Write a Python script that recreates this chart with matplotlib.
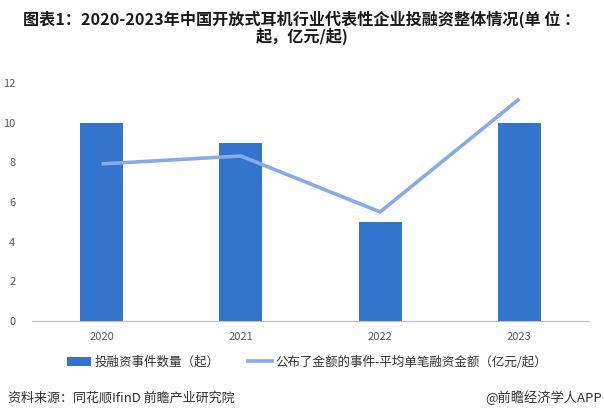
import matplotlib
matplotlib.use("Agg")
import matplotlib.pyplot as plt
from matplotlib.patches import Patch
from matplotlib.lines import Line2D

plt.rcParams['font.family'] = ['Noto Sans CJK SC', 'DejaVu Sans']

years = ["2020", "2021", "2022", "2023"]
deal_counts = [10, 9, 5, 10]
avg_amount = [7.92, 8.32, 5.5, 11.2]
yticks = [0, 2, 4, 6, 8, 10, 12]

title = "图表1：2020-2023年中国开放式耳机行业代表性企业投融资整体情况(单 位 ：\n起，亿元/起)"
bar_label = "投融资事件数量（起）"
line_label = "公布了金额的事件-平均单笔融资金额（亿元/起）"
source = "资料来源：同花顺IfinD 前瞻产业研究院"
brand = "@前瞻经济学人APP"

bar_color = "#3374CC"
line_color = "#8AA9E8"

fig = plt.figure(figsize=(6.04, 4.18), dpi=100)
ax = fig.add_axes([32/604, 1-321/418, (589-32)/604, (321-83)/418])

x = list(range(len(years)))
ax.bar(x, deal_counts, width=0.31, color=bar_color, zorder=2)
ax.plot(x, avg_amount, color=line_color, linewidth=2.6, zorder=3, solid_capstyle='butt')

ax.set_xlim(-0.5, 3.5)
ax.set_ylim(0, 12)
ax.set_yticks(yticks)
ax.set_xticks(x)
ax.set_xticklabels(years)
ax.tick_params(axis='both', length=0, labelsize=8, colors="#595959")
ax.tick_params(axis='x', pad=8)
ax.tick_params(axis='y', pad=12)
for s in ["top", "right", "left"]:
    ax.spines[s].set_visible(False)
ax.spines["bottom"].set_color("#BFBFBF")
ax.spines["bottom"].set_linestyle((0, (1, 1)))
ax.spines["bottom"].set_linewidth(0.8)

fig.text(0.5, 1-11/418, title, ha='center', va='top', fontsize=11.6,
         fontweight='bold', color="#1a1a1a", linespacing=1.0)

handles = [Patch(facecolor=bar_color, edgecolor='none'),
           Line2D([0], [0], color=line_color, linewidth=2.6)]
fig.legend(handles, [bar_label, line_label], loc='center', ncol=2,
           bbox_to_anchor=(307/604, 1-362/418), frameon=False, fontsize=9,
           handlelength=1.9, handletextpad=0.25, columnspacing=2.3,
           labelcolor="#333333")

fig.text(8/604, 1-398/418, source, ha='left', va='center', fontsize=9.4, color="#333333")
fig.text(602/604, 1-398/418, brand, ha='right', va='center', fontsize=9.5, color="#333333")

fig.savefig("out.png", dpi=100)
